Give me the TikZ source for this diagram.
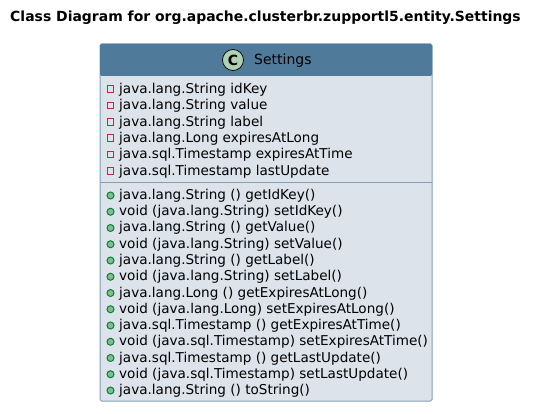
\documentclass[tikz,border=0pt]{standalone}
\usepackage{fontspec}
\setmainfont{DejaVu Sans}
\definecolor{headblue}{HTML}{4F7A9A}
\definecolor{bodyblue}{HTML}{DDE3EB}
\definecolor{lineblue}{HTML}{7F9FB8}
\definecolor{iconbg}{HTML}{ADD1B2}
\definecolor{privred}{HTML}{C82930}
\definecolor{pubgreen}{HTML}{84BE84}
\definecolor{pubedge}{HTML}{038048}
\tikzset{
  member/.style={anchor=base west, inner sep=0pt, font=\fontsize{13.57}{13.57}\selectfont},
  privmark/.style={draw=privred, line width=1pt, fill=none, minimum size=6.5pt, inner sep=0pt},
  pubmark/.style={circle, draw=pubedge, line width=1pt, fill=pubgreen, minimum size=7pt, inner sep=0pt},
}
\begin{document}
\begin{tikzpicture}[x=1pt, y=-1pt]
  \useasboundingbox (0,0) rectangle (538,414);
  % Title
  \node[inner sep=0pt, font=\fontsize{13.96}{13.96}\selectfont\bfseries] (title) at (265.5,18) {Class Diagram for org.apache.clusterbr.zupportl5.entity.Settings};

  % Class box
  \node[draw=lineblue, line width=1pt, fill=bodyblue, rounded corners=1.5pt, minimum width=332pt, minimum height=357pt, inner sep=0pt] (box) at (266,222.5) {};
  \node[fill=headblue, rounded corners=1.5pt, minimum width=332pt, minimum height=32pt, inner sep=0pt] (head) at (266,60) {};
  \node[circle, draw=black, line width=0.7pt, fill=iconbg, minimum size=21pt, inner sep=0pt, font=\fontsize{14}{14}\selectfont\bfseries] (icon) at (233,60) {C};
  \node[member, font=\fontsize{14}{14}\selectfont] (name) at (254,65) {Settings};

  % Divider
  \coordinate (divl) at (100,182.5);
  \coordinate (divr) at (432,182.5);
  \draw[lineblue, line width=1pt] (divl) -- (divr);

  % Fields
  \foreach \txt [count=\i] in {
    java.lang.String idKey,
    java.lang.String value,
    java.lang.String label,
    java.lang.Long expiresAtLong,
    java.sql.Timestamp expiresAtTime,
    java.sql.Timestamp lastUpdate}
  {
    \node[privmark] (pm\i) at (110.5,{89+(\i-1)*16.4}) {};
    \node[member] (field\i) at (119,{93.3+(\i-1)*16.4}) {\txt};
  }

  % Methods
  \foreach \txt [count=\i] in {
    java.lang.String () getIdKey(),
    void (java.lang.String) setIdKey(),
    java.lang.String () getValue(),
    void (java.lang.String) setValue(),
    java.lang.String () getLabel(),
    void (java.lang.String) setLabel(),
    java.lang.Long () getExpiresAtLong(),
    void (java.lang.Long) setExpiresAtLong(),
    java.sql.Timestamp () getExpiresAtTime(),
    void (java.sql.Timestamp) setExpiresAtTime(),
    java.sql.Timestamp () getLastUpdate(),
    void (java.sql.Timestamp) setLastUpdate(),
    java.lang.String () toString()}
  {
    \node[pubmark] (mm\i) at (110.5,{195.5+(\i-1)*16.25}) {};
    \node[member] (method\i) at (119,{199.5+(\i-1)*16.25}) {\txt};
  }
\end{tikzpicture}
\end{document}
